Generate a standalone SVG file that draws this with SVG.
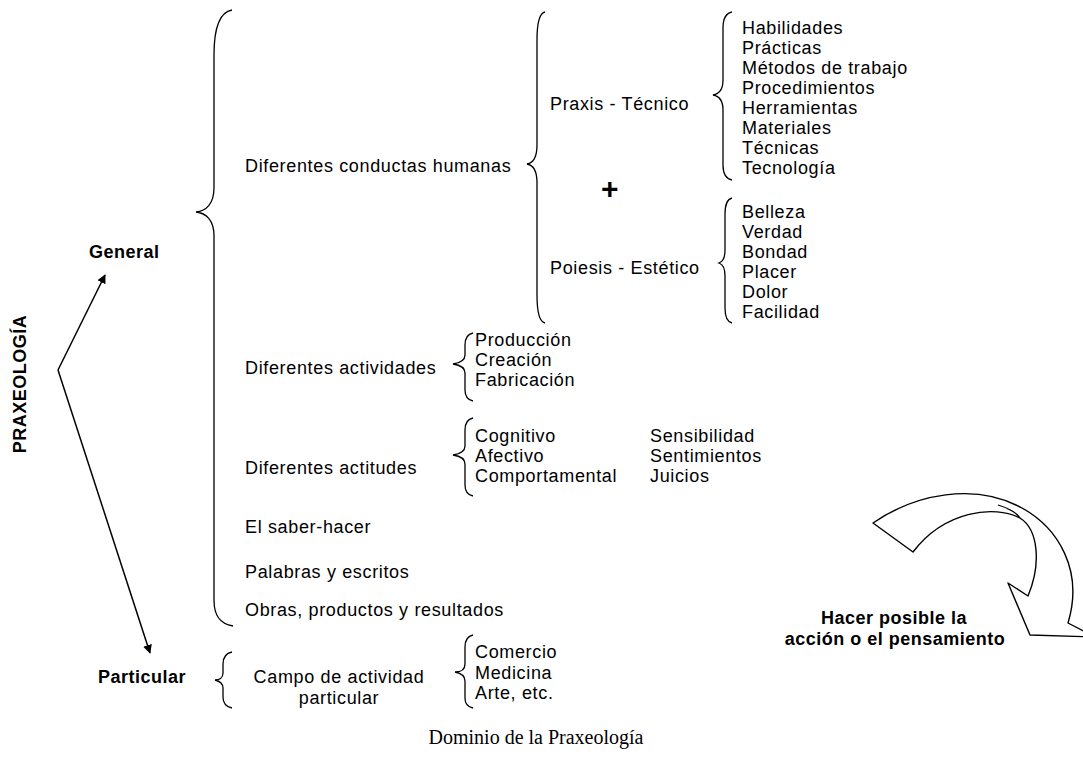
<svg xmlns="http://www.w3.org/2000/svg" width="1083" height="761" viewBox="0 0 1083 761">
  <style>
    .t { font-family: "Liberation Sans", Arial, sans-serif; font-size: 18px; letter-spacing: 0.65px; fill: #000; }
    .b { font-family: "Liberation Sans", Arial, sans-serif; font-size: 18px; font-weight: bold; letter-spacing: 0.5px; fill: #000; }
    .cap { font-family: "Liberation Serif", "Times New Roman", serif; font-size: 20px; fill: #000; }
    .brace { fill: none; stroke: #000; stroke-width: 1.3; }
    .link { fill: none; stroke: #000; stroke-width: 1.5; }
    .block { fill: #fff; stroke: #000; stroke-width: 1.4; stroke-linejoin: round; }
  </style>
  <defs>
    <marker id="head" viewBox="0 0 10 10" refX="9" refY="5" markerWidth="9" markerHeight="9" orient="auto" markerUnits="userSpaceOnUse">
      <path d="M0,0 L10,5 L0,10 Z" fill="#000"/>
    </marker>
  </defs>
  <rect width="1083" height="761" fill="#fff"/>

  <!-- root label and its two branches -->
  <g id="praxeologia">
    <text class="b" transform="translate(26,384) rotate(-90)" text-anchor="middle">PRAXEOLOGÍA</text>
  </g>
  <g id="connectors">
    <path class="link" d="M58,370 L105,275" marker-end="url(#head)"/>
    <path class="link" d="M58,370 L150,653" marker-end="url(#head)"/>
  </g>

  <g id="general">
    <text class="b" x="89" y="258">General</text>
    <path class="brace" d="M232,10 C220,12 214,28 214,55 L214,188 C214,204 206,211 196,212 C206,213 214,220 214,236 L214,600 C214,616 220,624 233,626"/>
  </g>

  <g id="conductas">
    <text class="t" x="245" y="172">Diferentes conductas humanas</text>
    <path class="brace" d="M545,12 C540,13 537,22 537,40 L537,145 C537,158 533,163 527,164 C533,165 537,170 537,183 L537,295 C537,313 540,322 545,323"/>
  </g>

  <g id="praxis">
    <text class="t" x="550" y="110">Praxis - Técnico</text>
    <path class="brace" d="M732,12 C727,13 723,18 723,28 L723,80 C723,90 719,94 713,95 C719,96 723,100 723,110 L723,165 C723,175 727,179 732,180"/>
    <text class="t" x="742" y="34">Habilidades</text>
    <text class="t" x="742" y="54">Prácticas</text>
    <text class="t" x="742" y="74">Métodos de trabajo</text>
    <text class="t" x="742" y="94">Procedimientos</text>
    <text class="t" x="742" y="114">Herramientas</text>
    <text class="t" x="742" y="134">Materiales</text>
    <text class="t" x="742" y="154">Técnicas</text>
    <text class="t" x="742" y="174">Tecnología</text>
  </g>

  <g id="plus">
    <text class="b" x="610" y="199" text-anchor="middle" style="font-size:30px">+</text>
  </g>

  <g id="poiesis">
    <text class="t" x="550" y="274">Poiesis - Estético</text>
    <path class="brace" d="M732,198 C728,199 725,204 725,214 L725,250 C725,259 722,262 719,263 C722,264 725,267 725,276 L725,308 C725,318 728,322 732,323"/>
    <text class="t" x="742" y="218">Belleza</text>
    <text class="t" x="742" y="238">Verdad</text>
    <text class="t" x="742" y="258">Bondad</text>
    <text class="t" x="742" y="278">Placer</text>
    <text class="t" x="742" y="298">Dolor</text>
    <text class="t" x="742" y="318">Facilidad</text>
  </g>

  <g id="actividades">
    <text class="t" x="245" y="374">Diferentes actividades</text>
    <path class="brace" d="M473,333 C468,334 465,338 465,345 L465,355 C465,361 460,363 453,364 C460,365 465,367 465,373 L465,390 C465,397 468,400 473,401"/>
    <text class="t" x="475" y="346">Producción</text>
    <text class="t" x="475" y="366">Creación</text>
    <text class="t" x="475" y="386">Fabricación</text>
  </g>

  <g id="actitudes">
    <text class="t" x="245" y="474">Diferentes actitudes</text>
    <path class="brace" d="M473,418 C468,419 465,423 465,430 L465,446 C465,452 460,454 453,455 C460,456 465,458 465,464 L465,485 C465,492 468,495 473,496"/>
    <text class="t" x="475" y="442">Cognitivo</text>
    <text class="t" x="475" y="462">Afectivo</text>
    <text class="t" x="475" y="482">Comportamental</text>
    <text class="t" x="650" y="442">Sensibilidad</text>
    <text class="t" x="650" y="462">Sentimientos</text>
    <text class="t" x="650" y="482">Juicios</text>
  </g>

  <g id="saber-hacer">
    <text class="t" x="245" y="533">El saber-hacer</text>
  </g>
  <g id="palabras">
    <text class="t" x="245" y="578">Palabras y escritos</text>
  </g>
  <g id="obras">
    <text class="t" x="245" y="616">Obras, productos y resultados</text>
  </g>

  <g id="particular">
    <text class="b" x="98" y="683">Particular</text>
    <path class="brace" d="M232,652 C227,653 223,657 223,664 L223,673 C223,678 219,680 215,680 C219,681 223,683 223,688 L223,697 C223,704 227,707 232,708"/>
    <text class="t" x="339" y="683" text-anchor="middle">Campo de actividad</text>
    <text class="t" x="339" y="704" text-anchor="middle">particular</text>
    <path class="brace" d="M473,635 C468,636 465,640 465,647 L465,664 C465,670 460,672 455,672 C460,673 465,675 465,681 L465,698 C465,704 468,707 473,708"/>
    <text class="t" x="475" y="658">Comercio</text>
    <text class="t" x="475" y="679">Medicina</text>
    <text class="t" x="475" y="699">Arte, etc.</text>
  </g>

  <!-- curved block arrow with its note -->
  <g id="hacer-posible">
    <path class="block" d="M873,523 C915,494 975,482 1022,508 C1058,528 1084,570 1068,623 L1095,637 L1030,635 L1008,583 L1028,596 C1041,565 1039,530 1020,518 C995,505 945,510 913,552 Z"/>
    <path class="brace" d="M998,505 C1008,508 1016,512 1020,518"/>
    <text class="b" x="894" y="624" text-anchor="middle">Hacer posible la</text>
    <text class="b" x="895" y="645" text-anchor="middle">acción o el pensamiento</text>
  </g>

  <text class="cap" x="536" y="744" text-anchor="middle">Dominio de la Praxeología</text>
</svg>
